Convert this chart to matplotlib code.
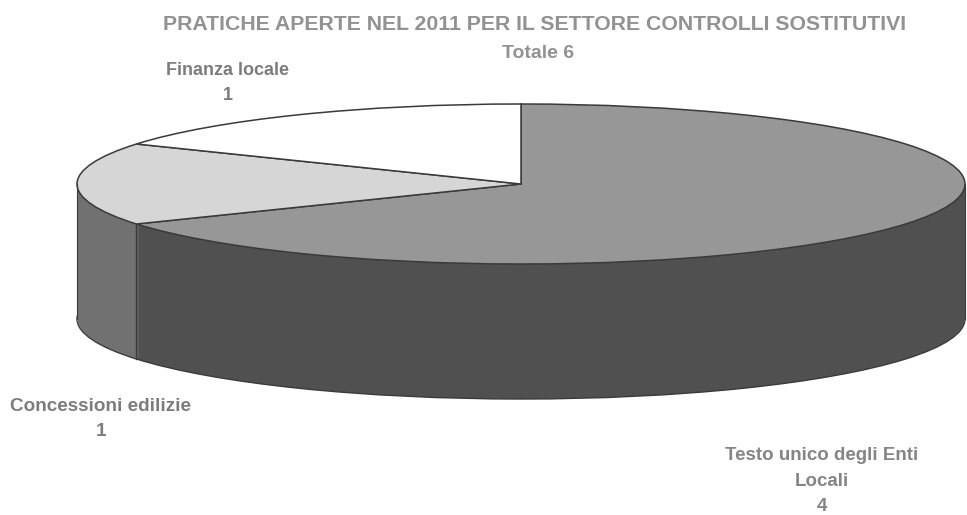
#!/usr/bin/env python3
import numpy as np
import matplotlib
matplotlib.use('Agg')
import matplotlib.pyplot as plt

# data
categories = ['Testo unico degli Enti\nLocali', 'Concessioni edilizie', 'Finanza locale']
values = [4, 1, 1]
top_colors = ['#979797', '#d6d6d6', '#ffffff']
side_colors = ['#505050', '#717171', '#a0a0a0']

W, H = 967, 515
# pie geometry in pixels of the picture
cx, cy, rx, ry, depth = 521, 184, 444, 80, 135

plt.rcParams['font.family'] = ['Liberation Sans', 'DejaVu Sans']

fig = plt.figure(figsize=(W / 100, H / 100), dpi=100, facecolor='white')
ax = fig.add_axes([0, 0, 1, 1])
edge = '#3a3a3a'

# side wall: the same pie stacked downwards, 1 pixel per layer
for k in range(depth, 0, -1):
    line = 1.0 if k == depth else 0
    ax.pie(values, colors=side_colors, startangle=90, counterclock=False,
           center=(0, -k / ry), radius=1,
           wedgeprops={'edgecolor': edge, 'linewidth': line})

# top face
ax.pie(values, colors=top_colors, startangle=90, counterclock=False,
       center=(0, 0), radius=1,
       wedgeprops={'edgecolor': edge, 'linewidth': 1.1})

# pie() forces an equal aspect, the tilt comes from the limits
ax.set_aspect('auto')
ax.set_xlim(-cx / rx, (W - cx) / rx)
ax.set_ylim(-(H - cy) / ry, cy / ry)

# vertical edges of the wall
ang = np.deg2rad(90 - 360 * np.cumsum(values)[0] / sum(values))
ax.plot([np.cos(ang)] * 2, [np.sin(ang), np.sin(ang) - depth / ry], color=edge, lw=1)
for x in (-1, 1):
    ax.plot([x, x], [0, -depth / ry], color=edge, lw=0.8)


def put(x, y, s, size, color='#8a8a8a', weight='bold'):
    fig.text(x / W, 1 - y / H, s, ha='center', va='center', fontsize=size,
             color=color, fontweight=weight, linespacing=1.65)


put(535, 25, 'PRATICHE APERTE NEL 2011 PER IL SETTORE CONTROLLI SOSTITUTIVI', 15.3, '#929292')
put(538, 54, 'Totale 6', 14, '#929292')
put(228, 83, f'{categories[2]}\n{values[2]}', 13, '#7c7c7c')
put(101, 419, f'{categories[1]}\n{values[1]}', 13.6, '#7c7c7c')
put(822, 481, f'{categories[0]}\n{values[0]}', 13.5, '#858585')

fig.savefig('out.png', dpi=100, facecolor='white')
